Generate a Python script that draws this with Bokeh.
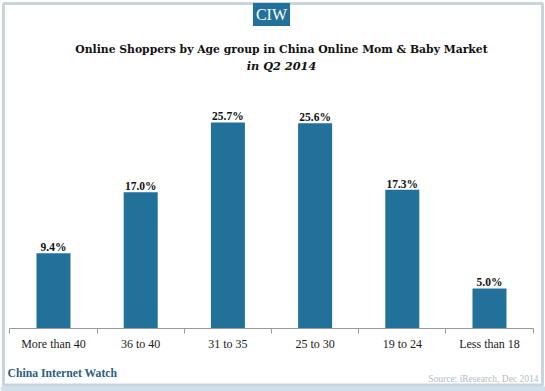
from bokeh.plotting import figure
from bokeh.models import Range1d, LinearAxis, FixedTicker, Label, ColumnDataSource, BoxAnnotation
from bokeh.core.properties import value
from bokeh.embed import file_html
from bokeh.resources import INLINE

categories = ["More than 40", "36 to 40", "31 to 35", "25 to 30", "19 to 24", "Less than 18"]
shares = [9.4, 17.0, 25.7, 25.6, 17.3, 5.0]
share_labels = ["9.4%", "17.0%", "25.7%", "25.6%", "17.3%", "5.0%"]

title_text = "Online Shoppers by Age group in China Online Mom & Baby Market"
subtitle_text = "in Q2 2014"
brand_text = "CIW"
footer_text = "China Internet Watch"
source_text = "Source: iResearch, Dec 2014"

BAR = "#22719b"
FRAME = "#4b7591"

W, H = 545, 391
n = len(categories)
centers = [i + 0.5 for i in range(n)]
src = ColumnDataSource(dict(x=centers, top=shares, lab=share_labels))

# frame covers the whole canvas; category band spans px 9.4..532.6, baseline at px 328
cat_px = (532.6 - 9.4) / n
px_per_pct = 8.016
x0 = -9.4 / cat_px
x1 = (W - 9.4) / cat_px
y1 = 328 / px_per_pct
y0 = -(H - 328) / px_per_pct

p = figure(width=W, height=H, output_backend="svg", toolbar_location=None,
           x_range=Range1d(x0, x1), y_range=Range1d(y0, y1),
           x_axis_type=None, y_axis_type=None,
           min_border_left=0, min_border_right=0, min_border_top=0, min_border_bottom=0)
p.outline_line_color = None
p.xgrid.visible = False
p.ygrid.visible = False
p.background_fill_color = "white"
p.border_fill_color = "white"

# light band under the frame and the outer frame
p.add_layout(BoxAnnotation(left=0, right=W, bottom=0, top=H - 386,
                           left_units="screen", right_units="screen",
                           bottom_units="screen", top_units="screen",
                           fill_color="#cfe0ec", fill_alpha=1, line_color=None))
p.add_layout(BoxAnnotation(left=3, right=542, bottom=H - 384.5, top=H - 3,
                           left_units="screen", right_units="screen",
                           bottom_units="screen", top_units="screen",
                           fill_alpha=0, line_color=FRAME, line_width=3))

p.vbar(x="x", top="top", width=0.39, bottom=0, source=src, fill_color=BAR, line_color=None)
p.text(x="x", y="top", text="lab", source=src, text_align="center", text_baseline="alphabetic",
       y_offset=-6, text_font=value("Liberation Serif"), text_font_style="bold",
       text_font_size="11.5px", text_color="#111111")

ax = LinearAxis(ticker=FixedTicker(ticks=centers, minor_ticks=list(range(n + 1))),
                fixed_location=0, bounds=(0, n))
ax.major_label_overrides = {c: lab for c, lab in zip(centers, categories)}
ax.major_tick_line_color = None
ax.major_tick_out = 0
ax.major_tick_in = 0
ax.minor_tick_line_color = "#999999"
ax.minor_tick_out = 5
ax.minor_tick_in = 0
ax.axis_line_color = "#999999"
ax.major_label_standoff = 3
ax.major_label_text_font = "Liberation Serif"
ax.major_label_text_font_size = "12px"
ax.major_label_text_color = "#1a1a1a"
p.add_layout(ax, "below")

def lbl(x, y, text, **kw):
    p.add_layout(Label(x=x, y=H - y, x_units="screen", y_units="screen", text=text, **kw))

lbl(271, 14, brand_text, text_align="center", text_baseline="middle", text_color="white",
    text_font="Liberation Serif", text_font_size="16px", background_fill_color=BAR, padding=3)
lbl(281, 49, title_text, text_align="center", text_baseline="alphabetic", text_color="#111111",
    text_font="DejaVu Serif", text_font_style="bold", text_font_size="10.8px")
lbl(281, 65.5, subtitle_text, text_align="center", text_baseline="alphabetic", text_color="#111111",
    text_font="DejaVu Serif", text_font_style="bold italic", text_font_size="11.3px")
lbl(7, 372.7, footer_text, text_align="left", text_baseline="middle", text_color="#2e5e7e",
    text_font="Liberation Serif", text_font_style="bold", text_font_size="11.7px")
lbl(538, 378, source_text, text_align="right", text_baseline="middle", text_color="#b3bcc4",
    text_font="Liberation Serif", text_font_size="9.5px")

open("out.html", "w").write(file_html(p, INLINE))
